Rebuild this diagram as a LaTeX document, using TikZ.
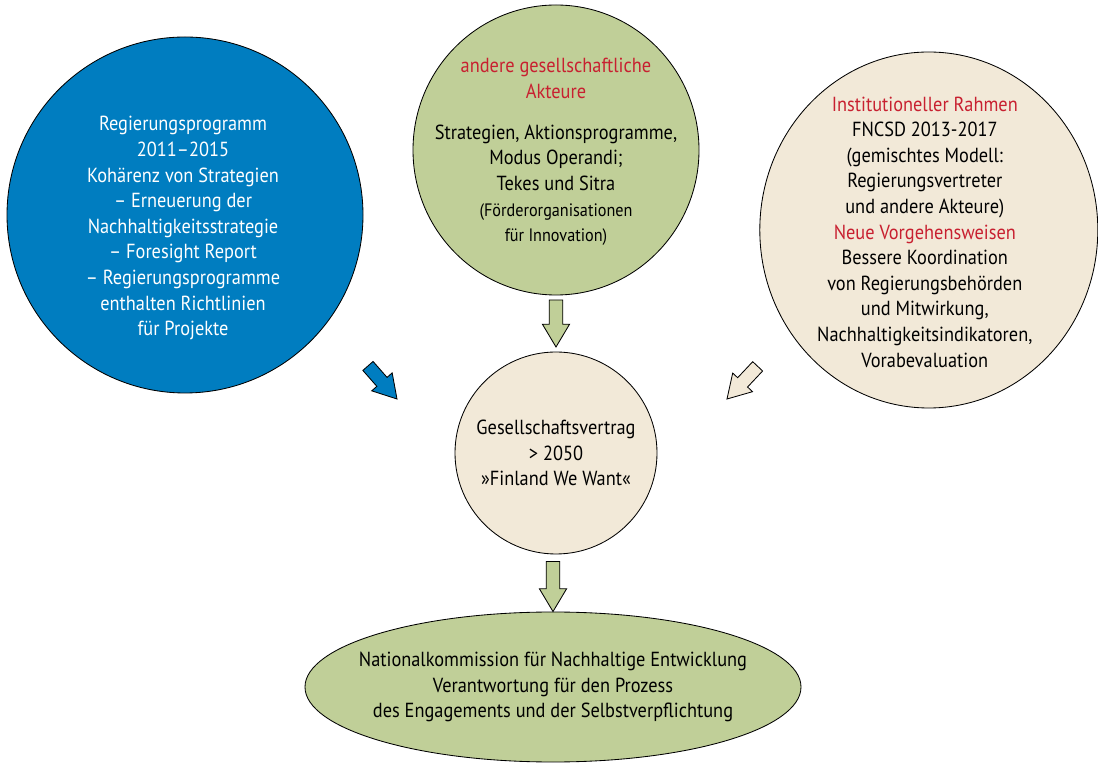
\documentclass[tikz,border=0pt]{standalone}
\usepackage{fontspec}
\setmainfont{PT Sans}[FakeStretch=0.9]
\usetikzlibrary{shapes.geometric}
\definecolor{fiblue}{RGB}{0,125,192}
\definecolor{figreen}{RGB}{192,207,152}
\definecolor{fibeige}{RGB}{242,233,216}
\definecolor{fired}{RGB}{200,32,48}

\tikzset{
  bubble/.style={ellipse,draw=black,line width=0.6pt,inner sep=0pt},
  bubbletext/.style={align=center,font=\fontsize{14.5}{18.2}\selectfont},
  pics/blockarr/.style={code={
    \draw[pic actions] (0,0) -- (-0.57,0.34) -- (-0.57,0.17) -- (-#1,0.17)
      -- (-#1,-0.17) -- (-0.57,-0.17) -- (-0.57,-0.34) -- cycle;}}
}

\begin{document}
\begin{tikzpicture}
  \useasboundingbox (0,0) rectangle (27.45,19.05);

  \node[bubble,fill=fiblue,minimum width=8.9cm,minimum height=8.9cm] (regierung) at (4.625,13.675) {};
  \node[bubble,fill=figreen,minimum width=7.15cm,minimum height=7.25cm] (akteure) at (13.9,15.3) {};
  \node[bubble,fill=fibeige,minimum width=8.45cm,minimum height=8.9cm] (rahmen) at (23.22,13.3) {};
  \node[bubble,fill=fibeige,minimum size=5.05cm] (vertrag) at (13.9,7.725) {};
  \node[bubble,fill=figreen,minimum width=12.4cm,minimum height=3.75cm] (kommission) at (13.825,1.875) {};

  \node[bubbletext,text=white,xshift=-0.05cm,yshift=-0.33cm] (regierung-txt) at (regierung)
    {Regierungsprogramm\\ 2011–2015\\ Kohärenz von Strategien\\ – Erneuerung der\\
     Nachhaltigkeitsstrategie\\ – Foresight Report\\ – Regierungsprogramme\\
     enthalten Richtlinien\\ für Projekte};
  \node[bubbletext,yshift=-0.05cm] (akteure-txt) at (akteure)
    {\textcolor{fired}{andere gesellschaftliche}\\ \textcolor{fired}{Akteure}\\[11pt]
     Strategien, Aktionsprogramme,\\ Modus Operandi;\\ Tekes und Sitra\\
     {\fontsize{12.8}{15.3}\selectfont (Förderorganisationen}\\
     {\fontsize{12.8}{15.3}\selectfont für Innovation)}};
  \node[bubbletext,xshift=-0.1cm,yshift=-0.05cm] (rahmen-txt) at (rahmen)
    {\textcolor{fired}{Institutioneller Rahmen}\\ FNCSD 2013-2017\\ (gemischtes Modell:\\
     Regierungsvertreter\\ und andere Akteure)\\ \textcolor{fired}{Neue Vorgehensweisen}\\
     Bessere Koordination\\ von Regierungsbehörden\\ und Mitwirkung,\\
     Nachhaltigkeitsindikatoren,\\ Vorabevaluation};
  \node[bubbletext] (vertrag-txt) at (vertrag)
    {Gesellschaftsvertrag\\ > 2050\\ »Finland We Want«};
  \node[bubbletext] (kommission-txt) at (kommission)
    {Nationalkommission für Nachhaltige Entwicklung\\ Verantwortung für den Prozess\\
     des Engagements und der Selbstverpflichtung};

  \pic[draw,line width=0.6pt,fill=figreen,rotate=-90] at (13.9,10.375) {blockarr=1.175};
  \pic[draw,line width=0.6pt,fill=figreen,rotate=-90] at (kommission.north) {blockarr=1.25};
  \pic[draw,line width=0.6pt,fill=fiblue,rotate=-48.7] at (9.925,9.075) {blockarr=1.1};
  \pic[draw,line width=0.6pt,fill=fibeige,rotate=-133.2] at (18.175,9.075) {blockarr=1.12};
\end{tikzpicture}
\end{document}
